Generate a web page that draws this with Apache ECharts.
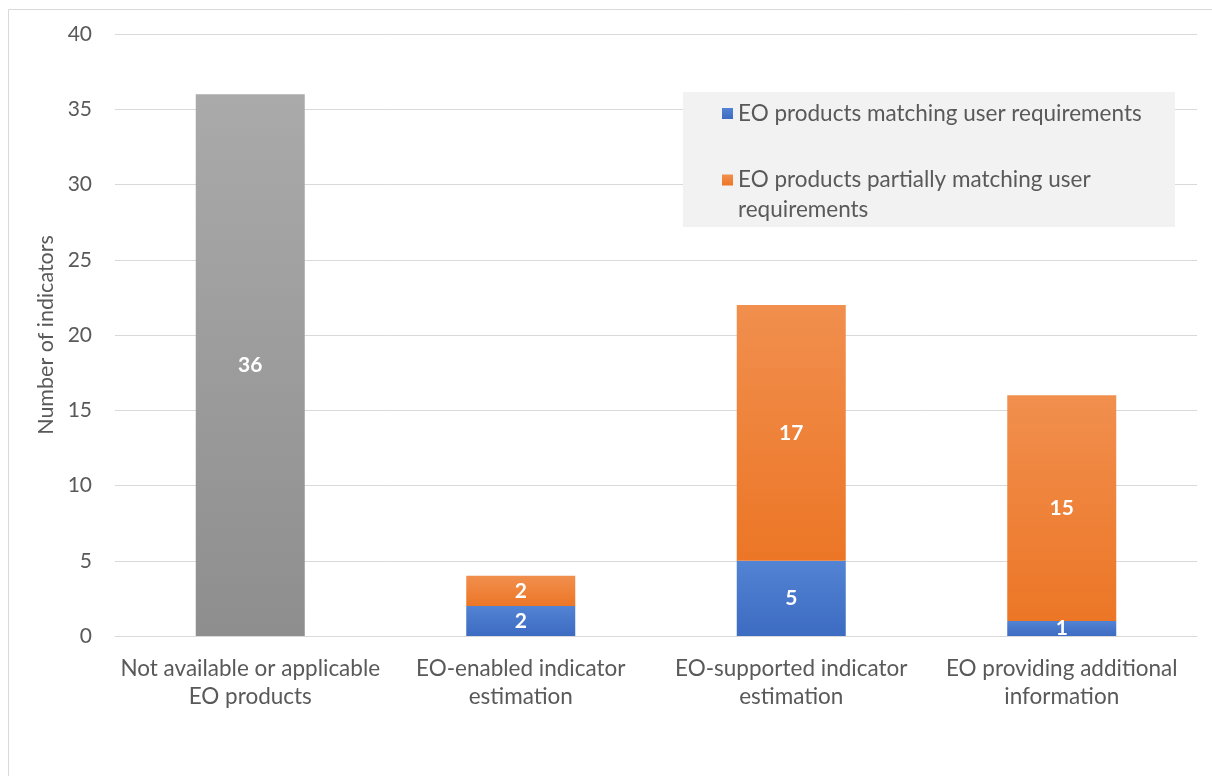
<!DOCTYPE html>
<html>
<head>
<meta charset="utf-8">
<script src="https://cdn.jsdelivr.net/npm/echarts@6/dist/echarts.min.js"></script>
<style>
html,body{margin:0;padding:0;background:#ffffff;}
#chart{width:1212px;height:776px;}
</style>
</head>
<body>
<div id="chart"></div>
<script>
// ---- data ----
const categories = [
  'Not available or applicable\nEO products',
  'EO-enabled indicator\nestimation',
  'EO-supported indicator\nestimation',
  'EO providing additional\ninformation'
];
const seriesNames = [
  'Not available or applicable EO products',
  'EO products matching user requirements',
  'EO products partially matching user requirements'
];
const notAvailableValues = [36, '-', '-', '-'];
const matchingValues = ['-', 2, 5, 1];
const partialValues = ['-', 2, 17, 15];
const yMin = 0, yMax = 40, yStep = 5;
const yAxisTitle = 'Number of indicators';

// ---- styling ----
const FONT = 'Lato';
const TXT = '#595959';
const FS = 22.5;
const grad = (a, b) => new echarts.graphic.LinearGradient(0, 0, 0, 1, [
  { offset: 0, color: a }, { offset: 1, color: b }
]);
const labelStyle = {
  show: true, position: 'inside', color: '#ffffff',
  fontFamily: FONT, fontWeight: 'bold', fontSize: 21
};

const chart = echarts.init(document.getElementById('chart'), null, { renderer: 'canvas' });
chart.setOption({
  backgroundColor: '#ffffff',
  animation: false,
  textStyle: { fontFamily: FONT },
  graphic: [
    { type: 'rect', z: 0, silent: true,
      shape: { x: 8.5, y: 9.5, width: 1400, height: 1000 },
      style: { fill: 'none', stroke: '#d9d9d9', lineWidth: 1 } },
    { type: 'rect', z: 1, silent: true,
      shape: { x: 683, y: 92, width: 492, height: 135 },
      style: { fill: '#f2f2f2' } }
  ],
  grid: { left: 115, right: 15, top: 34, bottom: 140, containLabel: false },
  legend: {
    orient: 'vertical',
    left: 722, top: 102,
    padding: 0,
    itemGap: 43,
    itemWidth: 11, itemHeight: 11,
    icon: 'rect',
    data: [seriesNames[1], seriesNames[2]],
    formatter: function (name) {
      if (name === seriesNames[2]) {
        return '{a|EO products partially matching user}\n{b|requirements}';
      }
      return '{s|' + name + '}';
    },
    textStyle: {
      color: TXT, fontFamily: FONT, fontSize: FS,
      rich: {
        s: { color: TXT, fontFamily: FONT, fontSize: FS, lineHeight: 22 },
        a: { color: TXT, fontFamily: FONT, fontSize: FS, lineHeight: 60 },
        b: { color: TXT, fontFamily: FONT, fontSize: FS, lineHeight: 1 }
      }
    }
  },
  xAxis: {
    type: 'category',
    data: categories,
    axisLine: { show: true, lineStyle: { color: '#d9d9d9', width: 1 } },
    axisTick: { show: false },
    axisLabel: { color: TXT, fontFamily: FONT, fontSize: FS, lineHeight: 28, margin: 19, interval: 0 }
  },
  yAxis: {
    type: 'value',
    min: yMin, max: yMax, interval: yStep,
    name: yAxisTitle,
    nameLocation: 'middle',
    nameGap: 58,
    nameRotate: 90,
    nameTextStyle: { color: TXT, fontFamily: FONT, fontSize: 21.5 },
    axisLine: { show: false },
    axisTick: { show: false },
    splitLine: { show: true, lineStyle: { color: '#d9d9d9', width: 1 } },
    axisLabel: { color: TXT, fontFamily: FONT, fontSize: 21, margin: 23 }
  },
  series: [
    { name: seriesNames[0], type: 'bar', stack: 'total', barWidth: 109,
      data: notAvailableValues,
      itemStyle: { color: grad('#aaaaaa', '#8e8e8e') },
      label: labelStyle },
    { name: seriesNames[1], type: 'bar', stack: 'total', barWidth: 109,
      data: matchingValues,
      itemStyle: { color: grad('#5383d3', '#3c6bc2') },
      label: labelStyle },
    { name: seriesNames[2], type: 'bar', stack: 'total', barWidth: 109,
      data: partialValues,
      itemStyle: { color: grad('#f18f4e', '#ec7626') },
      label: labelStyle }
  ]
});
</script>
</body>
</html>
